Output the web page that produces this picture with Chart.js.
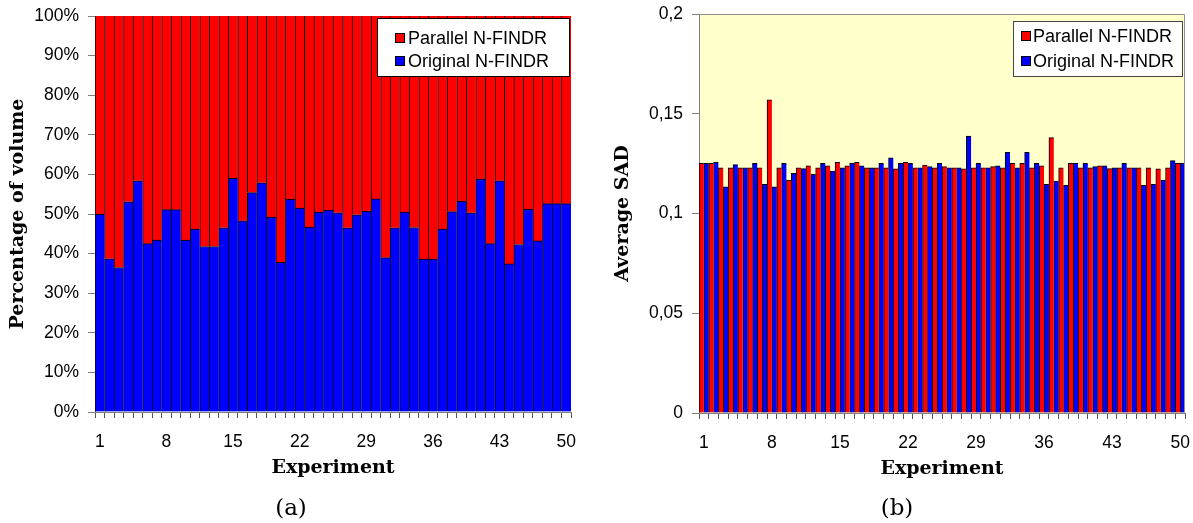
<!DOCTYPE html>
<html>
<head>
<meta charset="utf-8">
<script src="https://cdn.jsdelivr.net/npm/chart.js@4/dist/chart.umd.min.js"></script>
<style>
  html, body { margin: 0; padding: 0; background: #fff; }
  #wrap { position: relative; width: 1193px; height: 523px; overflow: hidden; }
  #cA { position: absolute; left: 0; top: 0; }
  #cB { position: absolute; left: 600px; top: 0; }
  .cap { position: absolute; top: 494px; font-family: "DejaVu Serif", serif; font-size: 23px; color: #000; width: 60px; text-align: center; }
</style>
</head>
<body>
<div id="wrap">
  <canvas id="cA" width="600" height="523"></canvas>
  <canvas id="cB" width="593" height="523"></canvas>
  <div class="cap" style="left:261px">(a)</div>
  <div class="cap" style="left:867px">(b)</div>
</div>
<script>
// ---------- data ----------
const experiments = ['1','2','3','4','5','6','7','8','9','10','11','12','13','14','15','16','17','18','19','20',
  '21','22','23','24','25','26','27','28','29','30','31','32','33','34','35','36','37','38','39','40',
  '41','42','43','44','45','46','47','48','49','50'];

// (a) percentage of volume
const originalA = [49.9,38.7,36.5,53.1,58.4,42.5,43.4,51.1,51.1,43.4,46.2,41.8,41.8,46.5,59.0,48.3,55.4,57.9,49.2,37.8,
  53.7,51.5,46.7,50.5,51.0,50.3,46.5,49.8,50.7,53.8,39.0,46.5,50.5,46.6,38.6,38.6,46.2,50.6,53.2,50.3,
  58.8,42.5,58.4,37.4,42.3,51.2,43.2,52.6,52.6,52.6];
const parallelA = [50.1,61.3,63.5,46.9,41.6,57.5,56.6,48.9,48.9,56.6,53.8,58.2,58.2,53.5,41.0,51.7,44.6,42.1,50.8,62.2,
  46.3,48.5,53.3,49.5,49.0,49.7,53.5,50.2,49.3,46.2,61.0,53.5,49.5,53.4,61.4,61.4,53.8,49.4,46.8,49.7,
  41.2,57.5,41.6,62.6,57.7,48.8,56.8,47.4,47.4,47.4];

// (b) average SAD
const parallelB = [0.1251,0.1251,0.1229,0.1229,0.1229,0.1229,0.1229,0.1570,0.1229,0.1167,0.1229,0.1239,0.1229,0.1239,0.1256,0.1239,0.1256,0.1229,0.1229,0.1229,
  0.1224,0.1256,0.1229,0.1243,0.1229,0.1235,0.1229,0.1224,0.1229,0.1229,0.1235,0.1229,0.1251,0.1251,0.1229,0.1239,0.1380,0.1229,0.1251,0.1229,
  0.1229,0.1239,0.1225,0.1229,0.1229,0.1229,0.1229,0.1224,0.1229,0.1251];
const originalB = [0.1251,0.1256,0.1134,0.1245,0.1229,0.1251,0.1146,0.1134,0.1251,0.1201,0.1225,0.1196,0.1251,0.1213,0.1229,0.1251,0.1239,0.1229,0.1251,0.1279,
  0.1251,0.1251,0.1229,0.1235,0.1251,0.1229,0.1229,0.1388,0.1251,0.1229,0.1239,0.1307,0.1229,0.1307,0.1251,0.1146,0.1163,0.1141,0.1251,0.1251,
  0.1235,0.1239,0.1229,0.1251,0.1229,0.1141,0.1146,0.1167,0.1265,0.1251];

const yTicksA = ['0%','10%','20%','30%','40%','50%','60%','70%','80%','90%','100%'];
const yTicksB = ['0','0,05','0,1','0,15','0,2'];
const seriesNames = ['Parallel N-FINDR', 'Original N-FINDR'];

// ---------- styles ----------
const RED = '#FF0000', BLUE = '#0000FF';
const tickFont = { family: 'Liberation Sans, Arial, sans-serif', size: 17.5 };
const titleFont = { family: 'DejaVu Serif, serif', size: 19, weight: 'bold' };

Chart.defaults.animation = false;
Chart.defaults.color = '#000';

function legendPlugin(cfg) {
  return {
    id: 'boxLegend',
    afterDraw(chart) {
      const ctx = chart.ctx;
      ctx.save();
      ctx.fillStyle = '#fff';
      ctx.fillRect(cfg.x, cfg.y, cfg.w, cfg.h);
      ctx.strokeStyle = cfg.border;
      ctx.lineWidth = 1;
      ctx.strokeRect(cfg.x + 0.5, cfg.y + 0.5, cfg.w - 1, cfg.h - 1);
      ctx.font = '18px "Liberation Sans", Arial, sans-serif';
      ctx.textBaseline = 'middle';
      ctx.textAlign = 'left';
      const colors = [RED, BLUE];
      for (let i = 0; i < 2; i++) {
        const cy = cfg.rows[i];
        ctx.fillStyle = colors[i];
        ctx.fillRect(cfg.mx, cy - 5, 10, 10);
        ctx.strokeStyle = '#000';
        ctx.strokeRect(cfg.mx + 0.5, cy - 4.5, 9, 9);
        ctx.fillStyle = '#000';
        ctx.fillText(seriesNames[i], cfg.tx, cy + 1);
      }
      ctx.restore();
    }
  };
}

function xScale(height, titlePadBottom) {
  return {
    type: 'category',
    offset: true,
    grid: { display: true, offset: true, drawOnChartArea: false, drawTicks: true, tickLength: 6, color: '#555' },
    border: { display: true, color: '#808080' },
    ticks: {
      autoSkip: false, maxRotation: 0, minRotation: 0, padding: 14, font: tickFont, color: '#000',
      callback: (v, i) => (i % 7 === 0 ? experiments[i] : '')
    },
    title: { display: true, text: 'Experiment', font: titleFont, color: '#000', padding: { top: 0, bottom: titlePadBottom } },
    afterFit(s) { s.height = height; s.paddingLeft = 0; s.paddingRight = 0; }
  };
}

// ---------- chart (a) ----------
new Chart(document.getElementById('cA'), {
  type: 'bar',
  data: {
    labels: experiments,
    datasets: [
      { label: seriesNames[1], data: originalA, backgroundColor: BLUE, borderColor: '#000',
        borderWidth: { left: 1, top: 1, right: 0, bottom: 0 }, borderSkipped: false,
        barPercentage: 1, categoryPercentage: 1, stack: 's' },
      { label: seriesNames[0], data: parallelA, backgroundColor: RED, borderColor: '#000',
        borderWidth: { left: 1, top: 0, right: 0, bottom: 0 }, borderSkipped: false,
        barPercentage: 1, categoryPercentage: 1, stack: 's' }
    ]
  },
  options: {
    responsive: false, devicePixelRatio: 1,
    layout: { padding: { left: 0, top: 16, right: 29, bottom: 0 } },
    plugins: { legend: { display: false }, tooltip: { enabled: false } },
    scales: {
      x: Object.assign(xScale(111, 44), { stacked: true }),
      y: {
        stacked: true, min: 0, max: 100,
        grid: { drawOnChartArea: false, drawTicks: true, tickLength: 7, color: '#808080' },
        border: { display: true, color: '#808080' },
        ticks: { stepSize: 10, padding: 9, font: tickFont, color: '#000', callback: (v, i) => yTicksA[i] },
        title: { display: true, text: 'Percentage of volume', font: titleFont, color: '#000', padding: { top: 7, bottom: 0 } },
        afterFit(s) { s.width = 95; s.paddingTop = 0; s.paddingBottom = 0; }
      }
    }
  },
  plugins: [legendPlugin({ x: 377, y: 18, w: 193, h: 59, border: '#000', mx: 395, tx: 408, rows: [38, 61] })]
});

// ---------- chart (b) ----------
const bgPlugin = {
  id: 'plotBg',
  beforeDraw(chart) {
    const { ctx, chartArea: a } = chart;
    ctx.save();
    ctx.fillStyle = '#FFFFCC';
    ctx.fillRect(a.left, a.top, a.right - a.left, a.bottom - a.top);
    ctx.restore();
  },
  afterDatasetsDraw(chart) {
    const { ctx, chartArea: a } = chart;
    ctx.save();
    ctx.strokeStyle = '#909090';
    ctx.lineWidth = 1;
    ctx.beginPath();
    ctx.moveTo(a.left, a.top + 0.5);
    ctx.lineTo(a.right - 0.5, a.top + 0.5);
    ctx.lineTo(a.right - 0.5, a.bottom);
    ctx.stroke();
    ctx.restore();
  }
};

new Chart(document.getElementById('cB'), {
  type: 'bar',
  data: {
    labels: experiments,
    datasets: [
      { label: seriesNames[0], data: parallelB, backgroundColor: RED, borderColor: '#000',
        borderWidth: { left: 1, top: 1, right: 0, bottom: 0 }, borderSkipped: false,
        barPercentage: 1, categoryPercentage: 1 },
      { label: seriesNames[1], data: originalB, backgroundColor: BLUE, borderColor: '#000',
        borderWidth: { left: 1, top: 1, right: 0, bottom: 0 }, borderSkipped: false,
        barPercentage: 1, categoryPercentage: 1 }
    ]
  },
  options: {
    responsive: false, devicePixelRatio: 1,
    layout: { padding: { left: 0, top: 14, right: 8, bottom: 0 } },
    plugins: { legend: { display: false }, tooltip: { enabled: false } },
    scales: {
      x: xScale(110, 43),
      y: {
        min: 0, max: 0.2,
        grid: { drawOnChartArea: false, drawTicks: true, tickLength: 7, color: '#808080' },
        border: { display: true, color: '#808080' },
        ticks: { stepSize: 0.05, padding: 9, font: tickFont, color: '#000', callback: (v, i) => yTicksB[i] },
        title: { display: true, text: 'Average SAD', font: titleFont, color: '#000', padding: { top: 12, bottom: 0 } },
        afterFit(s) { s.width = 99; s.paddingTop = 0; s.paddingBottom = 0; }
      }
    }
  },
  plugins: [bgPlugin, legendPlugin({ x: 413, y: 21, w: 170, h: 56, border: '#444', mx: 421, tx: 433, rows: [36, 61] })]
});
</script>
</body>
</html>
